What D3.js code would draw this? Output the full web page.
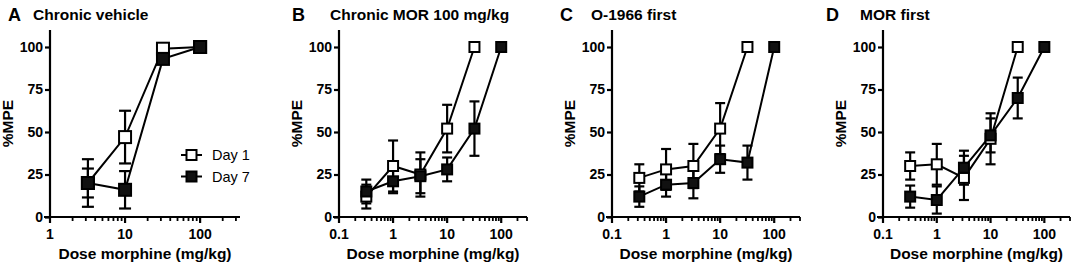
<!DOCTYPE html>
<html>
<head>
  <meta charset="UTF-8" />
  <script src="https://d3js.org/d3.v7.min.js"></script>
  <style>
    body { margin: 0; padding: 0; background: #fff; }
    text { font-family: "Liberation Sans", Arial, sans-serif; }
  </style>
</head>
<body>
  <svg width="1072" height="265"></svg>
  <script>
    // panel titles
    const letters = ["A", "B", "C", "D"];
    const titles = ["Chronic vehicle", "Chronic MOR 100 mg/kg", "O-1966 first", "MOR first"];

    // doses (mg/kg) and %MPE values (mean, sem)
    const dosesA = [3.2, 10, 32, 100];
    const day1A = [20, 47, 99, 100];
    const day1A_sem = [8.5, 15.5, 1, 0];
    const day7A = [20, 16, 93, 100];
    const day7A_sem = [14, 11, 2, 0];

    const dosesB = [0.32, 1, 3.2, 10, 32, 100];
    const day1B = [12, 30, 25, 52, 100];
    const day1B_sem = [7, 15, 13, 14, 0];
    const day7B = [15, 21, 24, 28, 52, 100];
    const day7B_sem = [7, 7, 10, 7, 16, 0];

    const dosesC = [0.32, 1, 3.2, 10, 32, 100];
    const day1C = [23, 28, 30, 52, 100];
    const day1C_sem = [8, 12, 13, 15, 0];
    const day7C = [12, 19, 20, 34, 32, 100];
    const day7C_sem = [6, 7, 9, 8, 10, 0];

    const dosesD = [0.32, 1, 3.2, 10, 32, 100];
    const day1D = [30, 31, 23, 46, 100];
    const day1D_sem = [8, 12, 13, 15, 0];
    const day7D = [12, 10, 29, 48, 70, 100];
    const day7D_sem = [6.5, 8, 10, 10, 12, 0];

    const yTicks = [0, 25, 50, 75, 100];
    const legendLabels = ["Day 1", "Day 7"];

    const panels = [
      { doses: dosesA, d1: day1A, s1: day1A_sem, d7: day7A, s7: day7A_sem, xmin: 1, xmax: 340, x0: 50, x1: 240, ticks: [1, 10, 100], letterX: 8, titleX: 33, box: 12 },
      { doses: dosesB, d1: day1B, s1: day1B_sem, d7: day7B, s7: day7B_sem, xmin: 0.1, xmax: 300, x0: 339, x1: 527, ticks: [0.1, 1, 10, 100], letterX: 292, titleX: 330, box: 10 },
      { doses: dosesC, d1: day1C, s1: day1C_sem, d7: day7C, s7: day7C_sem, xmin: 0.1, xmax: 300, x0: 612, x1: 800, ticks: [0.1, 1, 10, 100], letterX: 560, titleX: 591, box: 10 },
      { doses: dosesD, d1: day1D, s1: day1D_sem, d7: day7D, s7: day7D_sem, xmin: 0.1, xmax: 300, x0: 883, x1: 1070, ticks: [0.1, 1, 10, 100], letterX: 826, titleX: 860, box: 10 }
    ];

    const svg = d3.select("svg");
    const yTop = 30, yBottom = 217;

    panels.forEach((p, i) => {
      const g = svg.append("g");
      const x = d3.scaleLog().domain([p.xmin, p.xmax]).range([p.x0, p.x1]);
      const y = d3.scaleLinear().domain([0, 110]).range([yBottom, yTop]);

      // titles
      g.append("text")
        .attr("x", p.letterX).attr("y", 21)
        .attr("font-size", 18).attr("font-weight", "bold")
        .text(letters[i]);
      g.append("text")
        .attr("x", p.titleX).attr("y", 20)
        .attr("font-family", "Lato, sans-serif")
        .attr("font-size", 15.5).attr("font-weight", "bold")
        .text(titles[i]);

      // y axis
      const yAxis = g.append("g")
        .attr("transform", `translate(${p.x0},0)`)
        .call(d3.axisLeft(y).tickValues(yTicks).tickSize(5).tickPadding(2));
      yAxis.select(".domain").remove();
      yAxis.append("line")
        .attr("x1", 0).attr("x2", 0).attr("y1", yTop).attr("y2", yBottom + 1)
        .attr("stroke", "#000").attr("stroke-width", 2.2);
      yAxis.selectAll(".tick line").attr("stroke-width", 2.2);
      yAxis.selectAll(".tick text")
        .attr("font-size", 14).attr("font-weight", "bold")
        .attr("font-family", "Liberation Sans, Arial, sans-serif").attr("fill", "#000");

      // x axis with minor log ticks
      const minor = x.ticks().filter(t => p.ticks.indexOf(t) < 0 && t <= p.xmax);
      const xAxisG = g.append("g").attr("transform", `translate(0,${yBottom})`);
      xAxisG.append("line")
        .attr("x1", p.x0 - 6).attr("x2", p.x1).attr("y1", 0).attr("y2", 0)
        .attr("stroke", "#000").attr("stroke-width", 2.2);
      xAxisG.selectAll(".minor").data(minor).join("line")
        .attr("x1", d => x(d)).attr("x2", d => x(d))
        .attr("y1", 0).attr("y2", 4)
        .attr("stroke", "#000").attr("stroke-width", 1.8);
      xAxisG.selectAll(".major").data(p.ticks).join("line")
        .attr("x1", d => x(d)).attr("x2", d => x(d))
        .attr("y1", 0).attr("y2", 6)
        .attr("stroke", "#000").attr("stroke-width", 2.2);
      xAxisG.selectAll(".lab").data(p.ticks).join("text")
        .attr("x", d => x(d)).attr("y", 22)
        .attr("text-anchor", "middle")
        .attr("font-size", 14).attr("font-weight", "bold")
        .text(d => d);

      g.append("text")
        .attr("x", (p.x0 + p.x1) / 2).attr("y", 259)
        .attr("text-anchor", "middle")
        .attr("font-size", 15.5).attr("font-weight", "bold")
        .text("Dose morphine (mg/kg)");

      // y label
      g.append("text")
        .attr("transform", `translate(${p.x0 - 37},${(yTop + yBottom) / 2}) rotate(-90)`)
        .attr("text-anchor", "middle")
        .attr("font-size", 15.5).attr("font-weight", "bold")
        .text("%MPE");

      const series = [
        { mean: p.d1, sem: p.s1, fill: "#fff" },
        { mean: p.d7, sem: p.s7, fill: "#111" }
      ];

      // lines and error bars first
      series.forEach(s => {
        const pts = s.mean.map((m, j) => ({ dose: p.doses[j], m: m, e: s.sem[j] }));
        g.append("path")
          .datum(pts)
          .attr("fill", "none").attr("stroke", "#000").attr("stroke-width", 2)
          .attr("d", d3.line().x(d => x(d.dose)).y(d => y(d.m)));
        const eb = g.append("g");
        pts.filter(d => d.e > 0).forEach(d => {
          const cx = x(d.dose);
          const cw = p.box / 2;
          eb.append("line").attr("x1", cx).attr("x2", cx)
            .attr("y1", y(d.m - d.e)).attr("y2", y(d.m + d.e))
            .attr("stroke", "#000").attr("stroke-width", 2.2);
          [d.m - d.e, d.m + d.e].forEach(v => {
            eb.append("line").attr("x1", cx - cw).attr("x2", cx + cw)
              .attr("y1", y(v)).attr("y2", y(v))
              .attr("stroke", "#000").attr("stroke-width", 2.2);
          });
        });
      });

      // markers, day 7 on top
      series.forEach(s => {
        g.selectAll(null).data(s.mean.map((m, j) => ({ dose: p.doses[j], m: m })))
          .join("rect")
          .attr("x", d => x(d.dose) - p.box / 2)
          .attr("y", d => y(d.m) - p.box / 2)
          .attr("width", p.box).attr("height", p.box)
          .attr("fill", s.fill).attr("stroke", "#000").attr("stroke-width", 2);
      });

      // legend in panel A
      if (i === 0) {
        legendLabels.forEach((lab, k) => {
          const ly = 155 + k * 21.5;
          g.append("line").attr("x1", 181).attr("x2", 202).attr("y1", ly).attr("y2", ly)
            .attr("stroke", "#000").attr("stroke-width", 2);
          g.append("rect").attr("x", 186.5).attr("y", ly - 5).attr("width", 10).attr("height", 10)
            .attr("fill", series[k].fill).attr("stroke", "#000").attr("stroke-width", 2);
          g.append("text").attr("x", 212).attr("y", ly + 5)
            .attr("font-size", 14.5)
            .text(lab);
        });
      }
    });
  </script>
</body>
</html>
